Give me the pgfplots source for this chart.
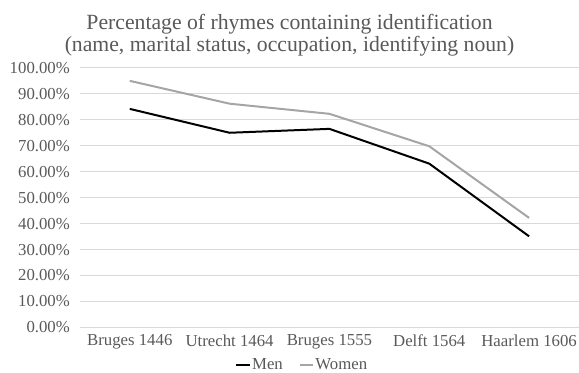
\documentclass[border=0pt]{standalone}
\usepackage{pgfplots}
\pgfplotsset{compat=1.18}
\usepackage{fontspec}
\setmainfont{Liberation Serif}
\definecolor{txt}{HTML}{595959}
\definecolor{gridc}{HTML}{D9D9D9}
\definecolor{wom}{HTML}{A5A5A5}
\begin{document}
\begin{tikzpicture}
\useasboundingbox (-60pt,-33.75pt) rectangle (375pt,246pt);
\begin{axis}[
  scale only axis, width=375pt, height=195pt,
  xmin=-0.5, xmax=4.5, ymin=0, ymax=100,
  xtick={0,1,2,3,4},
  xticklabels={Bruges 1446, Utrecht 1464, Bruges 1555, Delft 1564, Haarlem 1606},
  ytick={0,10,...,100},
  yticklabel={\pgfmathprintnumber[fixed,fixed zerofill,precision=2]{\tick}\%},
  /pgf/number format/assume math mode=true,
  ymajorgrids, grid style={gridc, line width=0.75pt},
  axis line style={draw=none},
  major tick length=0pt,
  tick label style={txt, font=\fontsize{12.6}{14}\selectfont},
  yticklabel style={xshift=-4pt},
  xticklabel style={yshift=-2pt},
  title={Percentage of rhymes containing identification\\(name, marital status, occupation, identifying noun)},
  title style={at={(rel axis cs:0.42,1)}, anchor=south, align=center, txt, font=\fontsize{16.3}{16.5}\selectfont, yshift=-1pt},
  legend style={at={(rel axis cs:0.445,-0.146)}, anchor=center, draw=none, legend columns=2, font=\fontsize{12.6}{14}\selectfont, text=txt, inner sep=0pt,
    nodes={inner xsep=1pt}},
  legend image code/.code={\draw[#1] (0cm,0cm) -- (10pt,0cm);},
  /tikz/every even column/.append style={column sep=11pt},
]
\addplot[black, line width=1.5pt] coordinates {(0,84.2) (1,75.0) (2,76.5) (3,63.1) (4,35.1)};
\addlegendentry{Men}
\addplot[wom, line width=1.5pt] coordinates {(0,95.0) (1,86.2) (2,82.3) (3,69.8) (4,42.2)};
\addlegendentry{Women}
\end{axis}
\end{tikzpicture}
\end{document}
